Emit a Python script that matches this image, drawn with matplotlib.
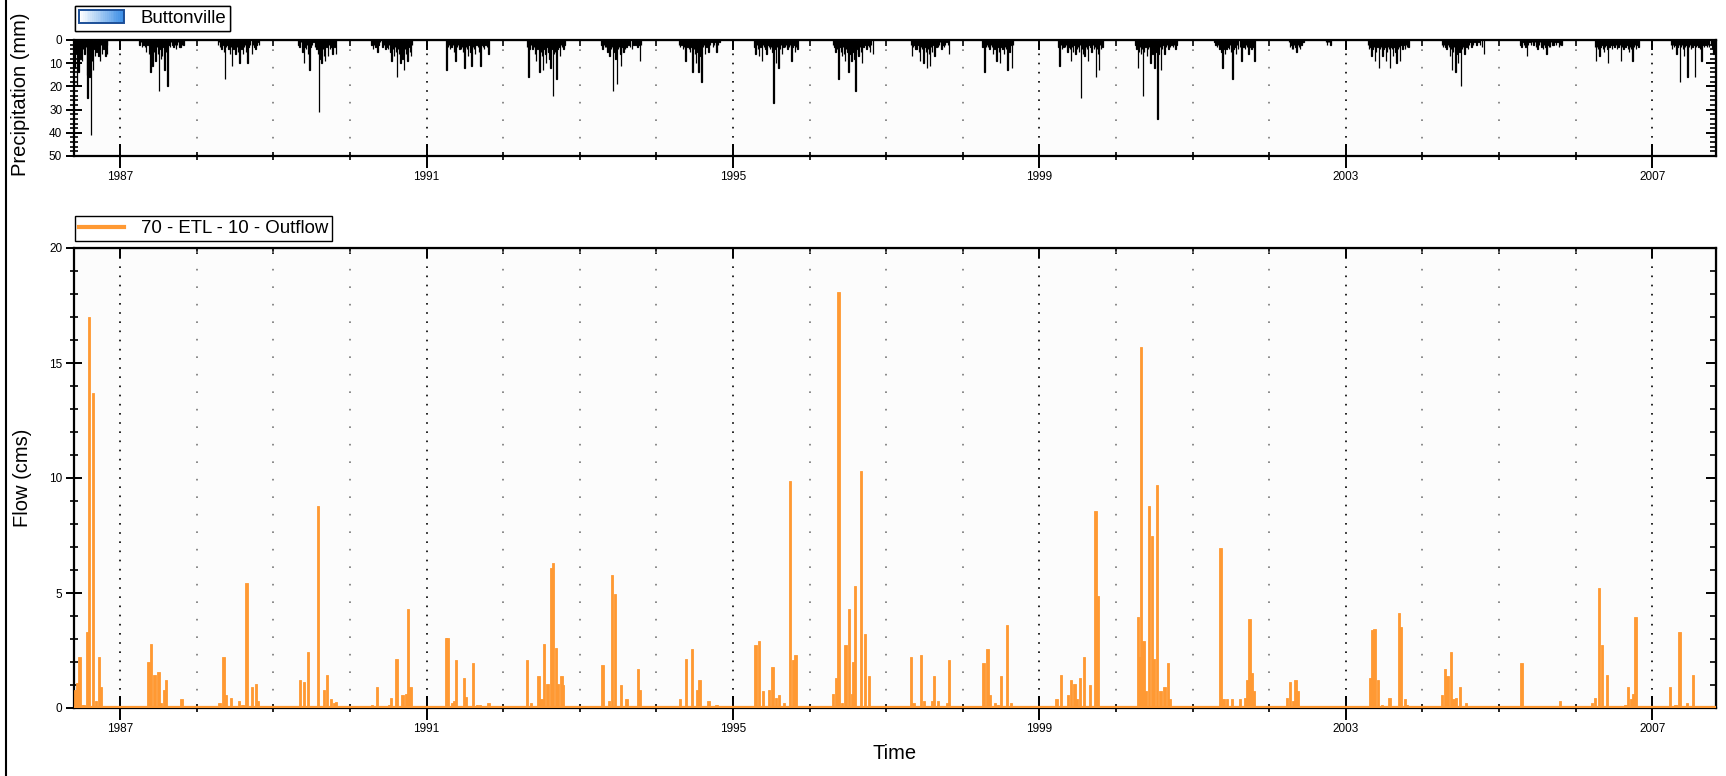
from datetime import datetime

import matplotlib
matplotlib.use("Agg")
import matplotlib.pyplot as plt
import matplotlib.dates as mdates
import matplotlib.ticker as ticker
from matplotlib.colors import LinearSegmentedColormap
from matplotlib.legend_handler import HandlerBase
from matplotlib.lines import Line2D
from matplotlib.patches import Rectangle

plt.rcParams["font.family"] = ["Liberation Sans", "DejaVu Sans"]

# ---- data (date given as year-dayofyear) ----
PRECIP_DAY = [
    # 1986
    "1986-151", "1986-155", "1986-160", "1986-164", "1986-168", "1986-172", "1986-177", "1986-181",
    "1986-185", "1986-190", "1986-197", "1986-203", "1986-207", "1986-211", "1986-215", "1986-219",
    "1986-223", "1986-228", "1986-232", "1986-236", "1986-240", "1986-245", "1986-249", "1986-253",
    "1986-258", "1986-262", "1986-266", "1986-270", "1986-275", "1986-279", "1986-283", "1986-287",
    "1986-292", "1986-296", "1986-300", "1986-304",
    # 1987
    "1987-094", "1987-100", "1987-106", "1987-112", "1987-119", "1987-125", "1987-131", "1987-138",
    "1987-145", "1987-150", "1987-156", "1987-163", "1987-170", "1987-176", "1987-181", "1987-187",
    "1987-193", "1987-197", "1987-201", "1987-207", "1987-213", "1987-219", "1987-226", "1987-232",
    "1987-238", "1987-244", "1987-250", "1987-255", "1987-262", "1987-268", "1987-272", "1987-278",
    "1987-283", "1987-289", "1987-295", "1987-303",
    # 1988
    "1988-102", "1988-108", "1988-113", "1988-119", "1988-125", "1988-130", "1988-136", "1988-142",
    "1988-148", "1988-153", "1988-159", "1988-165", "1988-170", "1988-176", "1988-181", "1988-187",
    "1988-193", "1988-198", "1988-204", "1988-210", "1988-215", "1988-221", "1988-227", "1988-232",
    "1988-236", "1988-243", "1988-249", "1988-256", "1988-264", "1988-270", "1988-276", "1988-281",
    "1988-287", "1988-292", "1988-298",
    # 1989
    "1989-120", "1989-126", "1989-132", "1989-140", "1989-146", "1989-150", "1989-155", "1989-160",
    "1989-166", "1989-172", "1989-178", "1989-185", "1989-193", "1989-200", "1989-207", "1989-213",
    "1989-218", "1989-222", "1989-226", "1989-231", "1989-236", "1989-242", "1989-248", "1989-254",
    "1989-260", "1989-266", "1989-271", "1989-277", "1989-282", "1989-288", "1989-293", "1989-299",
    # 1990
    "1990-104", "1990-110", "1990-116", "1990-122", "1990-131", "1990-137", "1990-145", "1990-156",
    "1990-162", "1990-170", "1990-176", "1990-182", "1990-188", "1990-194", "1990-199", "1990-205",
    "1990-210", "1990-216", "1990-220", "1990-224", "1990-229", "1990-235", "1990-241", "1990-246",
    "1990-252", "1990-258", "1990-263", "1990-268", "1990-275", "1990-280", "1990-286", "1990-292",
    "1990-297",
    # 1991
    "1991-097", "1991-103", "1991-108", "1991-114", "1991-120", "1991-127", "1991-133", "1991-139",
    "1991-145", "1991-152", "1991-158", "1991-165", "1991-171", "1991-176", "1991-182", "1991-188",
    "1991-193", "1991-199", "1991-205", "1991-210", "1991-216", "1991-222", "1991-227", "1991-233",
    "1991-240", "1991-246", "1991-252", "1991-258", "1991-264", "1991-270", "1991-275", "1991-282",
    "1991-289", "1991-296",
    # 1992
    "1992-116", "1992-121", "1992-127", "1992-133", "1992-141", "1992-147", "1992-152", "1992-158",
    "1992-164", "1992-170", "1992-175", "1992-181", "1992-187", "1992-192", "1992-198", "1992-202",
    "1992-206", "1992-212", "1992-218", "1992-222", "1992-226", "1992-232", "1992-238", "1992-244",
    "1992-249", "1992-255", "1992-260", "1992-266", "1992-272", "1992-278", "1992-283", "1992-289",
    "1992-294",
    # 1993
    "1993-104", "1993-109", "1993-115", "1993-120", "1993-126", "1993-132", "1993-138", "1993-143",
    "1993-149", "1993-154", "1993-160", "1993-166", "1993-171", "1993-177", "1993-182", "1993-188",
    "1993-194", "1993-198", "1993-204", "1993-210", "1993-216", "1993-224", "1993-232", "1993-240",
    "1993-249", "1993-257", "1993-266", "1993-275", "1993-281", "1993-287", "1993-292",
    # 1994
    "1994-108", "1994-114", "1994-120", "1994-127", "1994-133", "1994-139", "1994-145", "1994-150",
    "1994-156", "1994-162", "1994-168", "1994-173", "1994-179", "1994-185", "1994-190", "1994-196",
    "1994-202", "1994-208", "1994-212", "1994-216", "1994-222", "1994-228", "1994-233", "1994-240",
    "1994-245", "1994-250", "1994-257", "1994-264", "1994-270", "1994-276", "1994-282", "1994-287",
    "1994-294", "1994-301",
    # 1995
    "1995-104", "1995-109", "1995-115", "1995-121", "1995-126", "1995-132", "1995-139", "1995-144",
    "1995-150", "1995-155", "1995-160", "1995-166", "1995-172", "1995-177", "1995-183", "1995-189",
    "1995-194", "1995-200", "1995-206", "1995-212", "1995-219", "1995-224", "1995-230", "1995-236",
    "1995-242", "1995-248", "1995-255", "1995-262", "1995-268", "1995-274", "1995-279", "1995-285",
    "1995-290", "1995-296", "1995-302", "1995-309",
    # 1996
    "1996-114", "1996-119", "1996-125", "1996-131", "1996-139", "1996-144", "1996-150", "1996-156",
    "1996-161", "1996-166", "1996-170", "1996-175", "1996-181", "1996-187", "1996-192", "1996-197",
    "1996-201", "1996-206", "1996-211", "1996-216", "1996-221", "1996-226", "1996-231", "1996-235",
    "1996-241", "1996-246", "1996-252", "1996-258", "1996-264", "1996-272", "1996-278", "1996-284",
    "1996-289", "1996-295", "1996-303",
    # 1997
    "1997-118", "1997-124", "1997-129", "1997-135", "1997-140", "1997-145", "1997-150", "1997-156",
    "1997-162", "1997-167", "1997-172", "1997-179", "1997-184", "1997-190", "1997-196", "1997-201",
    "1997-205", "1997-209", "1997-215", "1997-220", "1997-225", "1997-230", "1997-236", "1997-241",
    "1997-247", "1997-253", "1997-258", "1997-264", "1997-270", "1997-276", "1997-281", "1997-288",
    "1997-295", "1997-301",
    # 1998
    "1998-094", "1998-100", "1998-105", "1998-111", "1998-117", "1998-122", "1998-128", "1998-134",
    "1998-140", "1998-145", "1998-151", "1998-157", "1998-162", "1998-167", "1998-173", "1998-179",
    "1998-185", "1998-190", "1998-196", "1998-202", "1998-207", "1998-213", "1998-219", "1998-224",
    "1998-229", "1998-235", "1998-240",
    # 1999
    "1999-092", "1999-097", "1999-103", "1999-109", "1999-115", "1999-122", "1999-128", "1999-134",
    "1999-140", "1999-146", "1999-151", "1999-157", "1999-162", "1999-168", "1999-173", "1999-179",
    "1999-185", "1999-190", "1999-195", "1999-199", "1999-205", "1999-210", "1999-216", "1999-222",
    "1999-228", "1999-233", "1999-239", "1999-245", "1999-250", "1999-256", "1999-262", "1999-267",
    "1999-270", "1999-276", "1999-280", "1999-284", "1999-290", "1999-295", "1999-301",
    # 2000
    "2000-095", "2000-100", "2000-105", "2000-111", "2000-116", "2000-121", "2000-126", "2000-131",
    "2000-136", "2000-142", "2000-148", "2000-153", "2000-159", "2000-165", "2000-170", "2000-175",
    "2000-180", "2000-185", "2000-190", "2000-195", "2000-199", "2000-204", "2000-210", "2000-216",
    "2000-221", "2000-227", "2000-233", "2000-239", "2000-245", "2000-252", "2000-258", "2000-265",
    "2000-272", "2000-278", "2000-284", "2000-290",
    # 2001
    "2001-105", "2001-110", "2001-116", "2001-122", "2001-128", "2001-134", "2001-139", "2001-143",
    "2001-148", "2001-152", "2001-156", "2001-161", "2001-166", "2001-173", "2001-178", "2001-184",
    "2001-190", "2001-195", "2001-201", "2001-207", "2001-212", "2001-218", "2001-226", "2001-233",
    "2001-238", "2001-244", "2001-250", "2001-255", "2001-261", "2001-267", "2001-272", "2001-277",
    "2001-281", "2001-286", "2001-291", "2001-296",
    # 2002
    "2002-095", "2002-100", "2002-106", "2002-110", "2002-114", "2002-120", "2002-126", "2002-131",
    "2002-137", "2002-142", "2002-148", "2002-154", "2002-160", "2002-165", "2002-271", "2002-275",
    "2002-280", "2002-286", "2002-292",
    # 2003
    "2003-107", "2003-112", "2003-118", "2003-124", "2003-129", "2003-135", "2003-141", "2003-146",
    "2003-152", "2003-158", "2003-163", "2003-169", "2003-175", "2003-180", "2003-186", "2003-192",
    "2003-197", "2003-202", "2003-207", "2003-212", "2003-218", "2003-222", "2003-226", "2003-232",
    "2003-238", "2003-243", "2003-249", "2003-254", "2003-260", "2003-266", "2003-271", "2003-277",
    "2003-282", "2003-288", "2003-293", "2003-299",
    # 2004
    "2004-094", "2004-099", "2004-105", "2004-111", "2004-116", "2004-122", "2004-128", "2004-133",
    "2004-137", "2004-141", "2004-146", "2004-152", "2004-158", "2004-163", "2004-167", "2004-172",
    "2004-177", "2004-180", "2004-184", "2004-189", "2004-195", "2004-201", "2004-207", "2004-212",
    "2004-218", "2004-224", "2004-230", "2004-235", "2004-242", "2004-250", "2004-260", "2004-268",
    "2004-276", "2004-285", "2004-294",
    # 2005
    "2005-102", "2005-107", "2005-113", "2005-120", "2005-127", "2005-133", "2005-139", "2005-146",
    "2005-152", "2005-158", "2005-165", "2005-172", "2005-178", "2005-184", "2005-190", "2005-196",
    "2005-203", "2005-209", "2005-215", "2005-221", "2005-226", "2005-232", "2005-238", "2005-243",
    "2005-249", "2005-255", "2005-260", "2005-266", "2005-272", "2005-280", "2005-286", "2005-292",
    "2005-299",
    # 2006
    "2006-092", "2006-097", "2006-102", "2006-108", "2006-114", "2006-119", "2006-125", "2006-131",
    "2006-136", "2006-142", "2006-148", "2006-152", "2006-156", "2006-162", "2006-168", "2006-175",
    "2006-181", "2006-187", "2006-193", "2006-199", "2006-205", "2006-211", "2006-216", "2006-222",
    "2006-228", "2006-233", "2006-238", "2006-244", "2006-250", "2006-255", "2006-261", "2006-266",
    "2006-272", "2006-278", "2006-284", "2006-289", "2006-295", "2006-301",
    # 2007
    "2007-090", "2007-094", "2007-100", "2007-106", "2007-111", "2007-116", "2007-122", "2007-128",
    "2007-133", "2007-138", "2007-143", "2007-148", "2007-153", "2007-158", "2007-164", "2007-170",
    "2007-175", "2007-181", "2007-187", "2007-193", "2007-198", "2007-204", "2007-210", "2007-216",
    "2007-221", "2007-228", "2007-235", "2007-241", "2007-248", "2007-255", "2007-262", "2007-267",
    "2007-272", "2007-280", "2007-286", "2007-292", "2007-298",
]
PRECIP_MM = [
    # 1986
    12, 6, 20, 8, 14, 5, 8, 3, 9, 4, 6, 3, 15, 25, 7, 16, 5, 41, 9, 13, 4, 7, 3, 5,
    2, 7, 3, 9, 2, 6, 2, 4, 3, 7, 2, 6,
    # 1987
    2, 1, 3, 2, 3, 5, 2, 6, 14, 4, 11, 5, 9, 3, 6, 22, 4, 8, 7, 3, 13, 5, 20, 2,
    3, 1, 2, 3, 2, 4, 2, 1, 3, 3, 2, 2,
    # 1988
    2, 1, 3, 4, 2, 5, 17, 3, 2, 4, 6, 3, 11, 4, 2, 6, 3, 5, 10, 2, 4, 6, 3, 2,
    5, 10, 3, 2, 6, 2, 3, 4, 2, 1, 2,
    # 1989
    2, 3, 1, 5, 10, 3, 4, 2, 6, 13, 3, 2, 1, 3, 4, 6, 31, 5, 8, 10, 4, 7, 9, 3,
    7, 2, 4, 3, 6, 2, 3, 6,
    # 1990
    2, 4, 2, 3, 5, 2, 1, 3, 2, 4, 3, 4, 2, 5, 9, 4, 7, 3, 5, 16, 4, 6, 10, 3,
    8, 13, 4, 6, 9, 3, 5, 7, 2,
    # 1991
    13, 3, 2, 4, 3, 2, 5, 9, 3, 2, 4, 4, 3, 5, 12, 3, 4, 7, 2, 5, 11, 3, 4, 6,
    2, 3, 5, 11, 2, 3, 4, 2, 3, 6,
    # 1992
    3, 16, 4, 2, 4, 3, 6, 9, 4, 3, 14, 5, 7, 13, 4, 6, 10, 3, 5, 8, 12, 4, 24, 6,
    5, 17, 4, 3, 7, 2, 3, 4, 2,
    # 1993
    2, 4, 2, 3, 3, 5, 2, 7, 4, 3, 22, 5, 8, 19, 4, 3, 6, 11, 3, 5, 4, 3, 2, 3,
    4, 2, 2, 3, 2, 9, 2,
    # 1994
    2, 3, 2, 4, 3, 9, 2, 3, 4, 5, 3, 14, 4, 6, 10, 5, 14, 4, 7, 18, 3, 2, 6, 3,
    2, 5, 2, 1, 3, 2, 1, 5, 2, 1,
    # 1995
    3, 6, 2, 4, 7, 3, 9, 2, 3, 4, 6, 2, 3, 4, 3, 5, 27, 4, 10, 3, 12, 4, 2, 6,
    3, 3, 2, 4, 3, 2, 9, 3, 2, 5, 3, 4,
    # 1996
    2, 3, 5, 4, 17, 3, 5, 7, 3, 6, 9, 4, 5, 14, 6, 4, 9, 3, 5, 8, 22, 4, 6, 7,
    3, 5, 10, 3, 2, 4, 2, 3, 5, 2, 6,
    # 1997
    2, 7, 3, 2, 4, 4, 2, 5, 9, 3, 4, 10, 3, 5, 12, 4, 6, 11, 3, 5, 2, 7, 2, 3,
    3, 2, 1, 4, 2, 3, 2, 1, 2, 6,
    # 1998
    3, 2, 14, 3, 2, 3, 4, 2, 3, 6, 4, 2, 9, 3, 5, 10, 3, 4, 6, 3, 4, 13, 3, 5,
    2, 12, 2,
    # 1999
    3, 11, 2, 4, 3, 3, 2, 5, 3, 4, 9, 3, 5, 2, 6, 4, 3, 5, 2, 25, 4, 6, 7, 3,
    4, 9, 2, 3, 5, 2, 4, 3, 16, 4, 6, 13, 2, 4, 3,
    # 2000
    2, 4, 12, 5, 3, 6, 4, 24, 5, 3, 7, 4, 3, 10, 4, 6, 3, 12, 5, 4, 34, 6, 3, 13,
    4, 2, 6, 3, 2, 4, 3, 2, 3, 2, 4, 2,
    # 2001
    1, 2, 3, 2, 4, 3, 5, 12, 4, 3, 6, 4, 3, 4, 2, 5, 17, 4, 3, 6, 2, 4, 3, 9,
    2, 3, 4, 2, 3, 6, 3, 2, 4, 3, 2, 9,
    # 2002
    1, 3, 2, 4, 4, 2, 3, 5, 2, 3, 4, 2, 1, 1, 1, 2, 1, 1, 2,
    # 2003
    2, 4, 3, 7, 4, 3, 9, 5, 3, 12, 4, 3, 7, 4, 3, 9, 5, 3, 4, 12, 3, 4, 7, 3,
    5, 10, 4, 3, 9, 2, 4, 2, 4, 2, 3, 3,
    # 2004
    2, 3, 2, 3, 4, 2, 3, 7, 4, 13, 5, 3, 14, 6, 4, 10, 5, 3, 20, 4, 3, 6, 2, 3,
    4, 2, 1, 3, 2, 1, 2, 1, 2, 3, 6,
    # 2005
    2, 3, 1, 2, 3, 7, 2, 1, 2, 1, 2, 1, 3, 4, 2, 1, 3, 4, 2, 3, 6, 2, 3, 3,
    1, 2, 2, 1, 2, 1, 3, 2, 2,
    # 2006
    3, 9, 3, 4, 7, 3, 2, 4, 5, 3, 2, 4, 10, 3, 2, 4, 2, 3, 2, 4, 3, 2, 9, 3,
    4, 2, 3, 2, 4, 5, 3, 4, 9, 3, 2, 4, 2, 3,
    # 2007
    2, 4, 2, 3, 2, 6, 3, 2, 18, 3, 2, 4, 7, 3, 2, 16, 3, 2, 4, 3, 2, 16, 3, 2,
    3, 4, 9, 2, 3, 2, 3, 2, 3, 2, 4, 6, 3,
]

FLOW_DAY = [
    "1986-151", "1986-160", "1986-172", "1986-185", "1986-194", "1986-207", "1986-219", "1986-236",
    "1986-250", "1986-265", "1986-275", "1986-290",
    "1987-102", "1987-136", "1987-148", "1987-165", "1987-184", "1987-196", "1987-209", "1987-221",
    "1987-272", "1987-294",
    "1988-110", "1988-129", "1988-139", "1988-165", "1988-202", "1988-219", "1988-238", "1988-265",
    "1988-284", "1988-294",
    "1989-129", "1989-148", "1989-167", "1989-212", "1989-223", "1989-241", "1989-257", "1989-275",
    "1989-291", "1989-299",
    "1990-105", "1990-131", "1990-187", "1990-196", "1990-223", "1990-252", "1990-267", "1990-279",
    "1990-289",
    "1991-093", "1991-101", "1991-122", "1991-131", "1991-141", "1991-179", "1991-187", "1991-223",
    "1991-241", "1991-255", "1991-296",
    "1992-116", "1992-133", "1992-170", "1992-184", "1992-197", "1992-212", "1992-229", "1992-240",
    "1992-252", "1992-263", "1992-279", "1992-288",
    "1993-109", "1993-139", "1993-153", "1993-170", "1993-196", "1993-224", "1993-278", "1993-288",
    "1994-114", "1994-141", "1994-170", "1994-194", "1994-207", "1994-250", "1994-287",
    "1995-109", "1995-126", "1995-145", "1995-172", "1995-190", "1995-206", "1995-219", "1995-245",
    "1995-274", "1995-289", "1995-299",
    "1996-114", "1996-128", "1996-139", "1996-156", "1996-173", "1996-190", "1996-204", "1996-211",
    "1996-218", "1996-248", "1996-265", "1996-284",
    "1997-119", "1997-131", "1997-165", "1997-182", "1997-221", "1997-230", "1997-248", "1997-291",
    "1997-301",
    "1998-085", "1998-100", "1998-119", "1998-131", "1998-153", "1998-167", "1998-184", "1998-211",
    "1998-230",
    "1999-083", "1999-105", "1999-139", "1999-151", "1999-168", "1999-179", "1999-196", "1999-214",
    "1999-241", "1999-269", "1999-279",
    "2000-105", "2000-114", "2000-122", "2000-133", "2000-145", "2000-160", "2000-173", "2000-182",
    "2000-196", "2000-214", "2000-233", "2000-250", "2000-259", "2000-275",
    "2001-134", "2001-148", "2001-165", "2001-189", "2001-226", "2001-250", "2001-260", "2001-272",
    "2001-284", "2001-294",
    "2002-085", "2002-099", "2002-114", "2002-126", "2002-136", "2002-289",
    "2003-107", "2003-116", "2003-126", "2003-138", "2003-155", "2003-172", "2003-209", "2003-230",
    "2003-255", "2003-265", "2003-282", "2003-294",
    "2004-095", "2004-109", "2004-121", "2004-136", "2004-150", "2004-162", "2004-180", "2004-209",
    "2005-107", "2005-291",
    "2006-080", "2006-094", "2006-112", "2006-128", "2006-150", "2006-238", "2006-250", "2006-264",
    "2006-274", "2006-286",
    "2007-085", "2007-112", "2007-131", "2007-167", "2007-194", "2007-230", "2007-286",
]
FLOW_CMS = [
    0.77, 1.1, 2.2, 0.15, 0.15, 3.3, 17.0, 13.7, 0.3, 2.2, 0.9, 0.07,
    0.07, 2.0, 2.8, 1.45, 1.55, 0.2, 0.8, 1.2, 0.08, 0.38,
    0.2, 2.2, 0.55, 0.45, 0.3, 0.15, 5.45, 0.9, 1.05, 0.3,
    1.2, 1.15, 2.45, 8.8, 0.1, 0.8, 1.45, 0.38, 0.2, 0.25,
    0.15, 0.9, 0.15, 0.45, 2.15, 0.55, 0.62, 4.3, 0.9,
    3.05, 3.05, 0.23, 0.3, 2.07, 1.3, 0.48, 1.97, 0.15, 0.15, 0.22,
    2.07, 0.22, 1.39, 0.38, 2.8, 1.05, 6.1, 6.3, 2.6, 1.05, 1.39, 1.0,
    1.88, 0.3, 5.8, 4.95, 1.0, 0.38, 1.7, 0.77,
    0.38, 2.15, 2.55, 0.8, 1.23, 0.3, 0.15,
    2.72, 2.9, 0.72, 0.8, 1.8, 0.45, 0.55, 0.23, 9.87, 2.07, 2.3,
    0.62, 1.3, 18.1, 0.23, 2.72, 4.3, 0.62, 2.0, 5.3, 10.3, 3.22, 1.37,
    2.2, 0.23, 2.3, 0.3, 0.3, 1.39, 0.3, 0.22, 2.07,
    0.08, 1.97, 2.55, 0.55, 0.23, 0.15, 1.39, 3.63, 0.23,
    0.38, 1.45, 0.55, 1.23, 1.05, 0.38, 1.3, 2.2, 1.0, 8.55, 4.88,
    3.95, 2.2, 15.7, 2.93, 0.72, 8.8, 7.5, 2.15, 9.7, 0.72, 0.9, 1.97, 0.38, 0.08,
    6.95, 0.38, 0.38, 0.38, 0.38, 0.45, 1.23, 3.87, 1.53, 0.72,
    0.45, 1.13, 0.3, 1.23, 0.72, 0.08,
    0.08, 1.3, 3.37, 3.44, 1.23, 0.15, 0.45, 0.08, 4.13, 3.54, 0.38, 0.15,
    0.55, 1.7, 1.37, 2.45, 0.38, 0.45, 0.9, 0.22,
    1.97, 0.3,
    0.22, 0.45, 5.22, 2.72, 1.45, 0.15, 0.9, 0.38, 0.62, 3.97,
    0.9, 0.15, 3.3, 0.22, 1.45, 0.08, 0.08,
]
BASE_FLOW = 0.05

START = datetime(1986, 5, 26)
END = datetime(2007, 11, 1)
LABEL_YEARS = [1987, 1991, 1995, 1999, 2003, 2007]

PRECIP_NAME = "Buttonville"
FLOW_NAME = "70 - ETL - 10 - Outflow"

ORANGE = "#ff9933"
PANEL_BG = "#fcfcfc"


def to_dates(days):
    return [datetime.strptime(d, "%Y-%j") for d in days]


class GradientHandler(HandlerBase):
    def create_artists(self, legend, orig_handle, xdescent, ydescent,
                       width, height, fontsize, trans):
        cmap = LinearSegmentedColormap.from_list("g", ["#ffffff", "#3d8fe6"])
        n = 24
        arts = []
        for i in range(n):
            arts.append(Rectangle((-xdescent + width * i / n, -ydescent), width / n + 0.3,
                                  height, facecolor=cmap(i / (n - 1)), edgecolor="none",
                                  transform=trans))
        arts.append(Rectangle((-xdescent, -ydescent), width, height, facecolor="none",
                              edgecolor="#1c4f98", lw=1.4, transform=trans))
        return arts


def style_axis(ax, ymajor, yminor):
    ax.set_facecolor(PANEL_BG)
    ax.set_xlim(START, END)
    for sp in ax.spines.values():
        sp.set_linewidth(1.6)
        sp.set_color("black")
    major = [datetime(y, 1, 1) for y in LABEL_YEARS]
    ax.xaxis.set_major_locator(ticker.FixedLocator(mdates.date2num(major)))
    ax.xaxis.set_major_formatter(mdates.DateFormatter("%Y"))
    ax.xaxis.set_minor_locator(mdates.YearLocator(1))
    ax.yaxis.set_major_locator(ticker.MultipleLocator(ymajor))
    ax.yaxis.set_minor_locator(ticker.MultipleLocator(yminor))
    ax.tick_params(axis="x", which="major", direction="inout", length=17, width=1.4,
                   labelsize=8.5, pad=2, top=False)
    ax.tick_params(axis="x", which="minor", direction="inout", length=6, width=1.2, top=False)
    ax.tick_params(axis="y", which="major", direction="inout", length=11, width=1.4,
                   labelsize=8.5, pad=3, right=False)
    ax.tick_params(axis="y", which="minor", direction="inout", length=6, width=1.2, right=False)
    ax.grid(which="major", axis="x", color="black", linestyle=(0, (1, 4.5)), lw=1.2)
    ax.grid(which="minor", axis="x", color="#777777", linestyle=(0, (1, 9.5)), lw=1.2)
    ax.set_axisbelow(True)

    # inward ticks on the top and right edges
    top = ax.secondary_xaxis("top")
    top.xaxis.set_major_locator(ticker.FixedLocator(mdates.date2num(major)))
    top.xaxis.set_minor_locator(mdates.YearLocator(1))
    top.tick_params(which="major", direction="in", length=7, width=1.4, labeltop=False)
    top.tick_params(which="minor", direction="in", length=4, width=1.2)
    right = ax.secondary_yaxis("right")
    right.yaxis.set_major_locator(ticker.MultipleLocator(ymajor))
    right.yaxis.set_minor_locator(ticker.MultipleLocator(yminor))
    right.tick_params(which="major", direction="in", length=7, width=1.4, labelright=False)
    right.tick_params(which="minor", direction="in", length=4, width=1.2)


precip_dates = to_dates(PRECIP_DAY)
flow_dates = to_dates(FLOW_DAY)

fig = plt.figure(figsize=(17.26, 7.76), dpi=100)
ax_p = fig.add_axes([74 / 1726, 620 / 776, 1642 / 1726, 116 / 776])
ax_f = fig.add_axes([74 / 1726, 68 / 776, 1642 / 1726, 460 / 776])

# precipitation (hanging bars)
ax_p.bar(precip_dates, PRECIP_MM, width=2.2, align="center", color="#3d8fe6",
         edgecolor="black", linewidth=0.9, zorder=3)
ax_p.set_ylim(50, 0)
style_axis(ax_p, 10, 2)
ax_p.set_ylabel("Precipitation (mm)", fontsize=14.5)
ax_p.yaxis.set_label_coords(-0.0265, 0.53)

# flow
ax_f.plot([START, END], [BASE_FLOW, BASE_FLOW], color=ORANGE, lw=1.6, zorder=3)
ax_f.bar(flow_dates, FLOW_CMS, width=11, align="center", color=ORANGE,
         edgecolor=ORANGE, linewidth=0.6, zorder=3)
ax_f.set_ylim(0, 20)
style_axis(ax_f, 5, 1)
ax_f.set_ylabel("Flow (cms)", fontsize=14.5)
ax_f.yaxis.set_label_coords(-0.0255, 0.5)
ax_f.set_xlabel("Time", fontsize=14.5)
ax_f.xaxis.set_label_coords(0.5, -0.078)

# legends
leg_kw = dict(loc="upper left", borderaxespad=0, fancybox=False, edgecolor="black",
              framealpha=1, fontsize=13.4, handlelength=2.4, handletextpad=0.9,
              borderpad=0.22, handleheight=0.7)
lp = fig.legend([Rectangle((0, 0), 1, 1)], [PRECIP_NAME],
                handler_map={Rectangle: GradientHandler()},
                bbox_to_anchor=(75 / 1726, 1 - 6 / 776), **leg_kw)
lp.get_frame().set_linewidth(1.0)
fig.add_artist(lp)
lf = fig.legend([Line2D([], [], color=ORANGE, lw=3)], [FLOW_NAME],
                bbox_to_anchor=(75 / 1726, 1 - 216 / 776), **leg_kw)
lf.get_frame().set_linewidth(1.0)

# left frame line of the figure
fig.add_artist(Line2D([5.5 / 1726, 5.5 / 1726], [0, 1], transform=fig.transFigure,
                      color="black", lw=1.5))

fig.savefig("out.png", dpi=100, facecolor="white")
